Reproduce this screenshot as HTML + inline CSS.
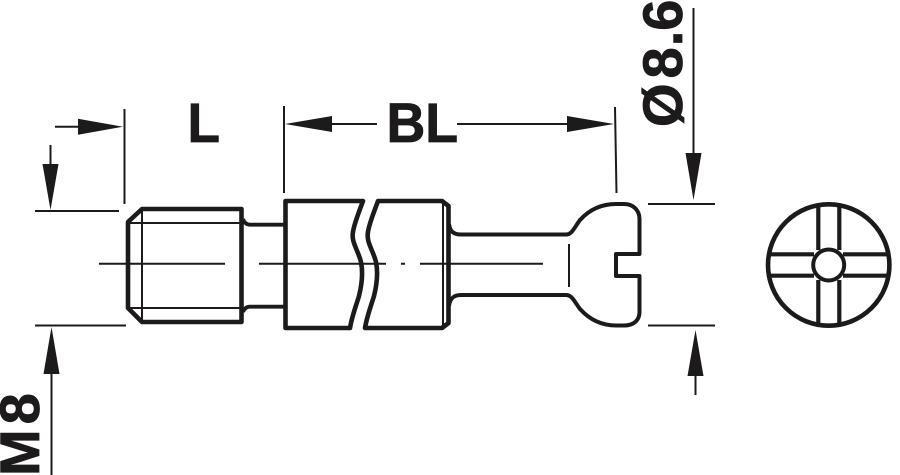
<!DOCTYPE html>
<html><head><meta charset="utf-8"><style>
html,body{margin:0;padding:0;background:#fff;width:900px;height:475px;overflow:hidden}
svg{display:block}
text{font-family:"Liberation Sans",sans-serif;font-weight:bold;font-size:56px;fill:#1d1a1b;stroke:#1d1a1b;stroke-width:.8px}
</style></head><body>
<svg width="900" height="475" viewBox="0 0 900 475" xmlns="http://www.w3.org/2000/svg">
<g fill="none" stroke="#1d1a1b" stroke-linejoin="round">
<!-- extension and dimension lines -->
<g stroke-width="2">
<path d="M124.5 109V204M35 211H119M35 325.5H126"/>
<path d="M55 126.7H80M50.5 145V166M51.5 372V475"/>
<path d="M284 106V193M615 107L616.5 193M332 124H377M457 124H569"/>
<path d="M648 204H715M648 325.5H715M693.5 8V155M695.5 374V395"/>
</g>
<!-- thread -->
<path stroke-width="4.6" d="M128 222L142 209H241.5V322H142L128 308Z"/>
<path stroke-width="2" d="M129 223H240M129 308H240M142 210V321"/>
<path stroke-width="3.8" d="M243 219Q245 224.7 250 224.7H285M243 312Q245 306.7 250 306.7H285"/>
<!-- body -->
<path stroke-width="4.6" d="M363 201H285.5V328H350C352 316 356 306 359 296C362 284 363 272 361 262C358 250 351 242 353 232C354 224 359 212 363 201Z"/>
<path stroke-width="4.6" d="M378 201H442L448.5 206V323L442 328H365C367 316 371 306 374 296C377 284 378 272 376 262C373 250 366 242 368 232C369 224 374 212 378 201Z"/>
<path stroke-width="2" d="M443 202V327"/>
<!-- centre line -->
<path stroke-width="2" d="M99 263.7H225M259 263.7H386M401 263.7H405M420 263.7H543"/>
<!-- head and shaft -->
<path stroke-width="4" d="M449 224C450 231 453 234.5 461 234.5H566C572 234.5 574 228 580 220C590 209 602 204 616 204H624C634 204 639.5 211 639.5 219V254H616V276H639.5V312C639.5 320 634 325.5 624 325.5H616C602 325.5 590 320 580 309C574 301 572 295 566 295H461C453 295 450 299 449 306"/>
<path stroke-width="2" d="M569 244V287"/>
<!-- cross section -->
<circle cx="828.7" cy="265" r="60.7" stroke-width="4.6"/>
<circle cx="828.7" cy="265" r="15.5" stroke-width="4"/>
<path stroke-width="4.2" d="M818.3 205V250M839.3 205V250M818.3 280V325M839.3 280V325M769 254.3H814M769 275.7H814M843 254.3H888M843 275.7H888"/>
</g>
<!-- arrowheads -->
<g fill="#1d1a1b">
<path d="M123 126.7L78 118.7V134.7Z"/>
<path d="M50.5 210L42.5 164H58.5Z"/>
<path d="M51.5 327L43.5 374H59.5Z"/>
<path d="M285 124L332 116V132Z"/>
<path d="M614 124L567 116V132Z"/>
<path d="M693.5 200L685.5 153H701.5Z"/>
<path d="M695.5 330L687.5 376H703.5Z"/>
</g>
<text transform="translate(187.5 142.2) scale(.95 1)">L</text>
<text transform="translate(386.5 142.2) scale(.96 1)">BL</text>
<text transform="translate(682 127) rotate(-90)">Ø<tspan dx="5">8</tspan><tspan dx="1">.</tspan><tspan dx="0">6</tspan></text>
<text transform="translate(39 476) rotate(-90)">M<tspan dx="5">8</tspan></text>
</svg>
</body></html>
